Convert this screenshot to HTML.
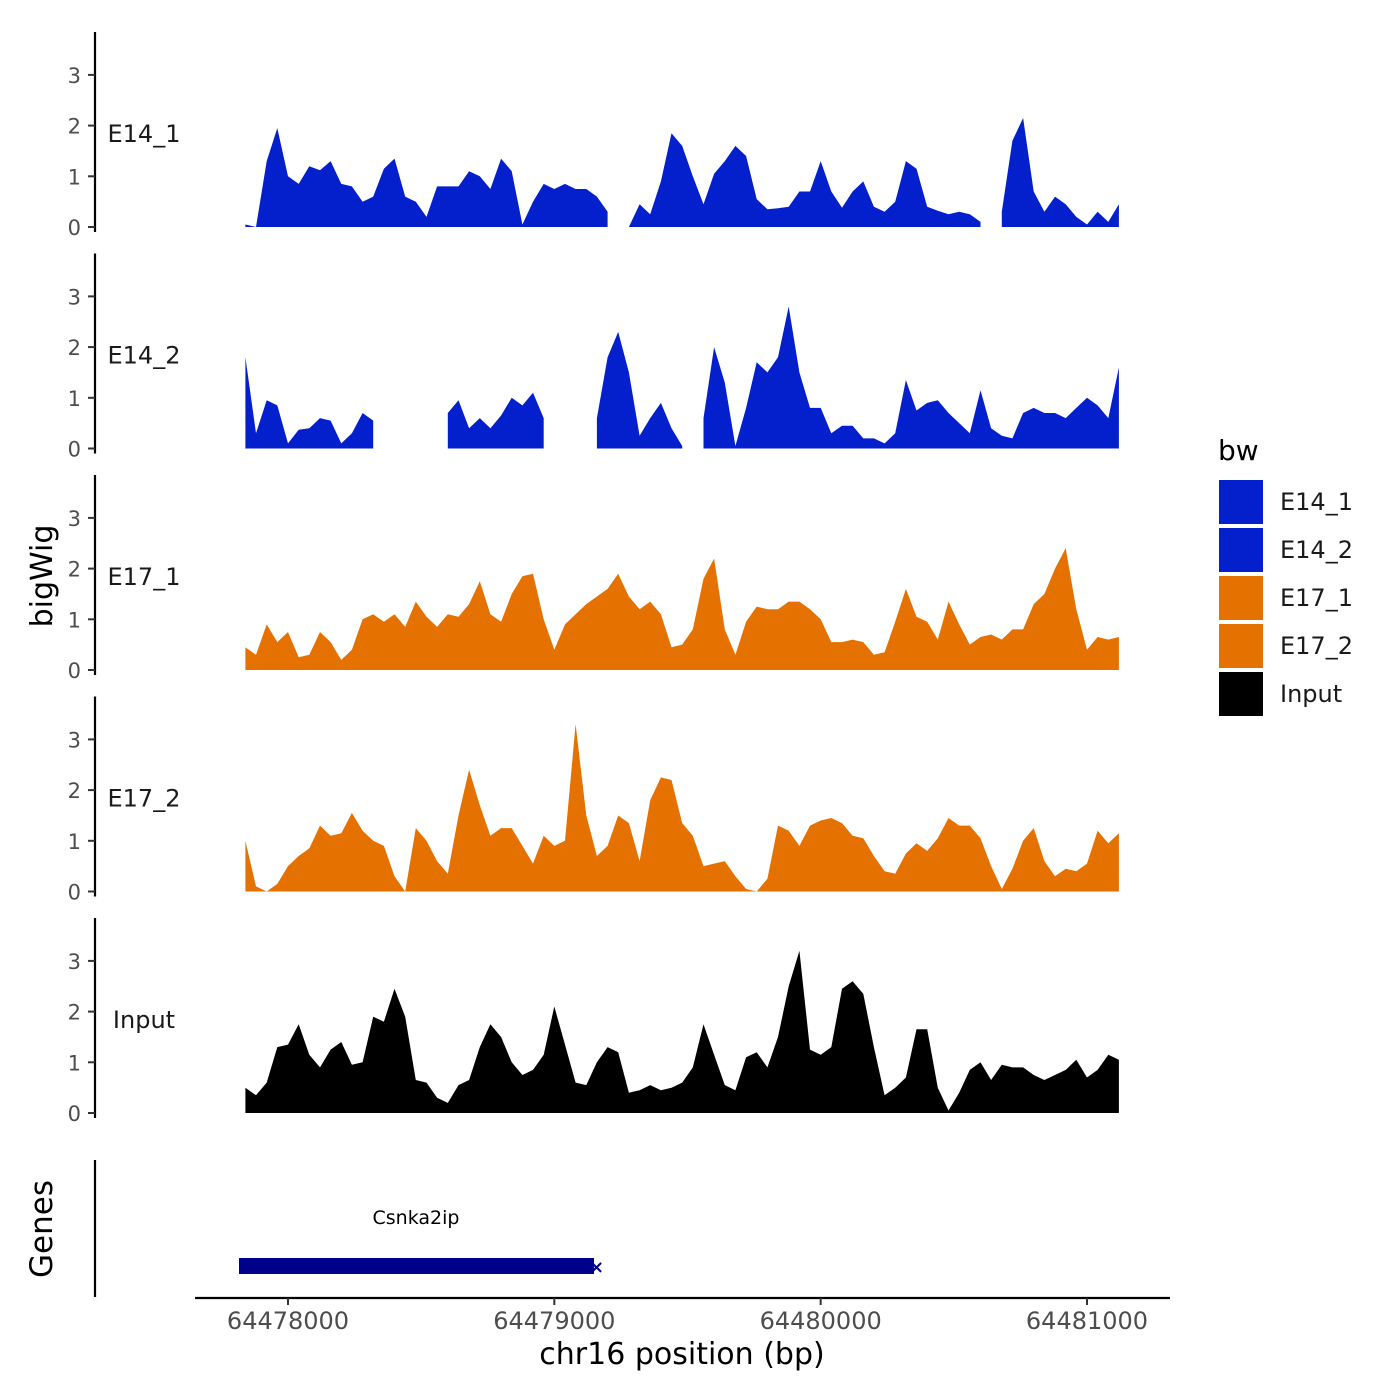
<!DOCTYPE html>
<html><head><meta charset="utf-8"><style>
html,body{margin:0;padding:0;background:#fff;}
svg{display:block;font-family:"DejaVu Sans","Liberation Sans",sans-serif;}
</style></head><body>
<svg id="chart" width="1400" height="1400" viewBox="0 0 1400 1400" xmlns="http://www.w3.org/2000/svg">
<rect width="1400" height="1400" fill="#fff"/>
<g id="tracks"></g>
<g id="genes-panel">
<line x1="95" y1="1160" x2="95" y2="1297" stroke="#000" stroke-width="2.2"/>
<text x="0" y="0" transform="translate(52,1229) rotate(-90)" font-size="31" text-anchor="middle">Genes</text>
<text x="416" y="1224" font-size="19" text-anchor="middle">Csnka2ip</text>
<rect x="239" y="1258" width="355" height="16" fill="#00008b"/>
<text x="589" y="1273" font-size="18" font-weight="bold" fill="#00008b">×</text>
</g>
<g id="xaxis"></g>
<text x="682" y="1364" font-size="30" text-anchor="middle">chr16 position (bp)</text>
<text x="0" y="0" transform="translate(52,576) rotate(-90)" font-size="30" text-anchor="middle">bigWig</text>
<g id="legend"></g>
</svg>
<script>
const trackNames = ["E14_1","E14_2","E17_1","E17_2","Input"];
const trackColors = ["#0320cc","#0320cc","#e57200","#e57200","#000000"];
const startBp = 64477840;
const stepBp = 40;
const yTicks = [0,1,2,3];
const xTicks = [64478000,64479000,64480000,64481000];
const xTickLabels = ["64478000","64479000","64480000","64481000"];
const N = null;
const e14_1 = [0.05,0,1.3,1.95,1.0,0.85,1.2,1.12,1.3,0.85,0.8,0.5,0.6,1.15,1.35,0.6,0.5,0.2,0.8,0.8,0.8,1.1,1.0,0.75,1.35,1.1,0.05,0.5,0.85,0.75,0.85,0.75,0.75,0.6,0.3,N,0,0.45,0.25,0.9,1.85,1.6,1.0,0.45,1.05,1.3,1.6,1.4,0.55,0.35,0.37,0.4,0.7,0.7,1.3,0.7,0.38,0.7,0.9,0.4,0.3,0.5,1.3,1.15,0.4,0.32,0.25,0.3,0.25,0.1,N,0.3,1.7,2.15,0.7,0.3,0.6,0.45,0.2,0.05,0.3,0.1,0.45];
const e14_2 = [1.8,0.3,0.95,0.85,0.1,0.37,0.4,0.6,0.55,0.1,0.3,0.7,0.55,N,N,N,N,N,N,0.7,0.95,0.4,0.6,0.4,0.65,1.0,0.85,1.1,0.6,N,N,N,N,0.6,1.8,2.3,1.5,0.25,0.6,0.9,0.4,0.05,N,0.6,2.0,1.3,0.05,0.8,1.7,1.5,1.8,2.8,1.5,0.8,0.8,0.3,0.45,0.45,0.2,0.2,0.1,0.3,1.35,0.75,0.9,0.95,0.7,0.5,0.3,1.15,0.4,0.25,0.2,0.7,0.8,0.7,0.7,0.6,0.8,1.0,0.85,0.6,1.6];
const e17_1 = [0.45,0.3,0.9,0.55,0.75,0.25,0.3,0.75,0.55,0.2,0.4,1.0,1.1,0.95,1.1,0.85,1.35,1.05,0.85,1.1,1.05,1.3,1.75,1.1,0.95,1.5,1.85,1.9,1.0,0.4,0.9,1.1,1.3,1.45,1.6,1.9,1.45,1.2,1.35,1.1,0.45,0.5,0.8,1.8,2.2,0.8,0.3,0.95,1.25,1.2,1.2,1.35,1.35,1.2,1.0,0.55,0.55,0.6,0.55,0.3,0.35,0.95,1.6,1.05,0.95,0.6,1.35,0.9,0.5,0.65,0.7,0.6,0.8,0.8,1.3,1.5,2.0,2.4,1.2,0.4,0.65,0.6,0.65];
const e17_2 = [1.0,0.1,0.0,0.15,0.5,0.7,0.85,1.3,1.1,1.15,1.55,1.2,1.0,0.9,0.3,0.0,1.25,1.0,0.6,0.35,1.5,2.4,1.7,1.1,1.25,1.25,0.9,0.55,1.1,0.9,1.0,3.3,1.5,0.7,0.9,1.5,1.35,0.6,1.8,2.25,2.2,1.35,1.1,0.5,0.55,0.6,0.3,0.05,0.0,0.25,1.3,1.2,0.9,1.3,1.4,1.45,1.35,1.1,1.05,0.7,0.4,0.35,0.75,0.95,0.8,1.05,1.45,1.3,1.3,1.05,0.5,0.05,0.45,1.0,1.25,0.6,0.3,0.45,0.4,0.55,1.2,0.95,1.15];
const input = [0.5,0.35,0.6,1.3,1.35,1.75,1.15,0.9,1.25,1.4,0.95,1.0,1.9,1.8,2.45,1.9,0.65,0.6,0.3,0.2,0.55,0.65,1.3,1.75,1.5,1.0,0.75,0.85,1.15,2.1,1.35,0.6,0.55,1.0,1.3,1.2,0.4,0.45,0.55,0.45,0.5,0.6,0.9,1.75,1.15,0.55,0.45,1.1,1.2,0.9,1.5,2.5,3.2,1.25,1.15,1.3,2.45,2.6,2.35,1.3,0.35,0.5,0.7,1.65,1.65,0.5,0.05,0.4,0.85,1.0,0.65,0.95,0.9,0.9,0.75,0.65,0.75,0.85,1.05,0.7,0.85,1.15,1.05];
const trackValues = [e14_1,e14_2,e17_1,e17_2,input];

const NS = "http://www.w3.org/2000/svg";
function mk(tag, attrs, parent){const e=document.createElementNS(NS,tag);for(const k in attrs)e.setAttribute(k,attrs[k]);parent.appendChild(e);return e;}
function xScale(bp){return 288 + (bp-64478000)*0.26633;}
function yScale(v, base){return base - v*50.7;}

const tracksG = document.getElementById("tracks");
trackNames.forEach((name, t) => {
  const base = 227 + t*221.5;
  const g = mk("g", {}, tracksG);
  
  
  const ax = mk("line", {x1:95, y1:base-195, x2:95, y2:base+5, stroke:"#000", "stroke-width":2.2}, g);
  
  
  yTicks.forEach(v => {
    const y = yScale(v, base);
    mk("line", {x1:88, y1:y, x2:95, y2:y, stroke:"#333", "stroke-width":2}, g);
    const tx = mk("text", {x:81, y:y+8, "font-size":21, "text-anchor":"end", fill:"#4d4d4d"}, g);
    
    
    tx.textContent = v;
  });
  const lab = mk("text", {x:144, y:base-85, "font-size":24, "text-anchor":"middle", fill:"#1a1a1a"}, g);
  
  
  lab.textContent = name;
  const vals = trackValues[t];
  let seg = [];
  const flush = () => {
    if (seg.length > 1) {
      let d = "M" + seg[0][0].toFixed(1) + "," + base;
      seg.forEach(p => d += "L" + p[0].toFixed(1) + "," + p[1].toFixed(1));
      d += "L" + seg[seg.length-1][0].toFixed(1) + "," + base + "Z";
      const p = mk("path", {d:d, fill:trackColors[t]}, g);
      
      
    }
    seg = [];
  };
  vals.forEach((v, i) => {
    if (v === null) { flush(); return; }
    seg.push([xScale(startBp + i*stepBp), yScale(v, base)]);
  });
  flush();
});

const xa = document.getElementById("xaxis");
mk("line", {x1:195, y1:1298, x2:1170, y2:1298, stroke:"#000", "stroke-width":2.2}, xa);
xTicks.forEach((bp, i) => {
  const x = xScale(bp);
  mk("line", {x1:x, y1:1298, x2:x, y2:1305, stroke:"#333", "stroke-width":2}, xa);
  const t = mk("text", {x:x, y:1329, "font-size":24, "text-anchor":"middle", fill:"#4d4d4d"}, xa);
  
  
  t.textContent = xTickLabels[i];
});

const lg = document.getElementById("legend");
const lt = mk("text", {x:1218, y:460, "font-size":28}, lg);


lt.textContent = "bw";
const legendNames = ["E14_1","E14_2","E17_1","E17_2","Input"];
const legendColors = ["#0320cc","#0320cc","#e57200","#e57200","#000000"];
legendNames.forEach((n, i) => {
  const y = 479 + i*48;
  const r = mk("rect", {x:1218, y:y, width:46, height:46, fill:legendColors[i], stroke:"#fff", "stroke-width":2}, lg);
  
  
  const tx = mk("text", {x:1280, y:y+31, "font-size":24, fill:"#1a1a1a"}, lg);
  
  
  tx.textContent = n;
});
</script>
</body></html>
